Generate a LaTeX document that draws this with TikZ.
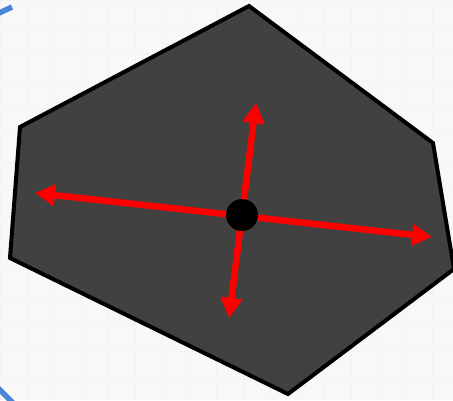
\documentclass[tikz,border=0pt]{standalone}
\usetikzlibrary{arrows.meta}
\definecolor{paper}{RGB}{248,248,249}
\definecolor{gridline}{RGB}{243,243,245}
\definecolor{slab}{RGB}{65,65,65}
\definecolor{pull}{RGB}{255,0,0}
\definecolor{rim}{RGB}{74,134,214}
\tikzset{
  poly/.style={draw=black,line width=4pt,fill=slab,line join=miter},
  arr/.style={{Triangle[length=20pt,width=21pt]}-{Triangle[length=20pt,width=21pt]},line width=6.5pt,draw=pull},
  dot/.style={circle,fill=black,inner sep=0pt,minimum size=32pt},
  frag/.style={draw=rim,line width=5.5pt}
}
\begin{document}
\begin{tikzpicture}[x=1pt,y=-1pt]
  \useasboundingbox (0,0) rectangle (453,400);
  \clip (0,0) rectangle (453,400);
  \fill[paper] (0,0) rectangle (453,400);
  \draw[gridline,step=27pt] (0,0) grid (453,400);
  % blue pieces at the left border
  \draw[frag] (-3,14) -- (12,7);
  \draw[frag] (-3,387) -- (13,403);
  % the polygon
  \coordinate (ptop) at (249,6);
  \coordinate (pne) at (433,143);
  \coordinate (pse) at (454,269);
  \coordinate (pbot) at (288,394);
  \coordinate (psw) at (10,258);
  \coordinate (pnw) at (20,127);
  \draw[poly] (ptop) -- (pne) -- (pse) -- (pbot) -- (psw) -- (pnw) -- cycle;
  % directions
  \coordinate (w) at (35,193);
  \coordinate (e) at (432,237);
  \coordinate (n) at (256,103);
  \coordinate (s) at (229,318);
  \draw[arr] (w) -- (e);
  \draw[arr] (n) -- (s);
  \node[dot] (c) at (242,215) {};
\end{tikzpicture}
\end{document}
